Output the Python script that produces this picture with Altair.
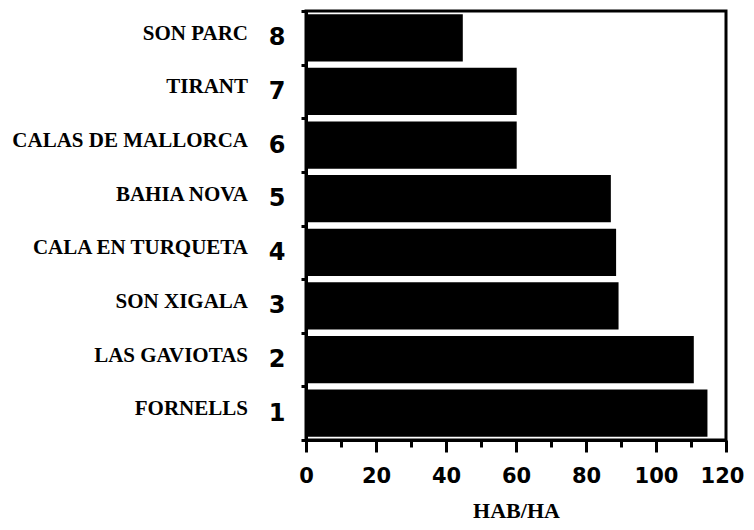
import altair as alt
import pandas as pd

names = ["FORNELLS", "LAS GAVIOTAS", "SON XIGALA", "CALA EN TURQUETA",
         "BAHIA NOVA", "CALAS DE MALLORCA", "TIRANT", "SON PARC"]
nums = [1, 2, 3, 4, 5, 6, 7, 8]
values = [114.7, 110.8, 89.3, 88.6, 87.1, 60.2, 60.2, 44.8]
x_ticks = [0, 10, 20, 30, 40, 50, 60, 70, 80, 90, 100, 110, 120]
y_ticks = [0.5, 1.5, 2.5, 3.5, 4.5, 5.5, 6.5, 7.5, 8.5]

df = pd.DataFrame({"name": names, "num": nums, "value": values})

half = 0.44

x_enc = alt.X(
    "value:Q",
    scale=alt.Scale(domain=[0, 120], nice=False, zero=True),
    axis=alt.Axis(
        title="HAB/HA",
        values=x_ticks,
        labelExpr="datum.value % 20 === 0 ? datum.label : ''",
        grid=False,
        tickSize={"condition": {"test": "datum.value % 20 === 0", "value": 12}, "value": 7},
        tickWidth=3,
        tickColor="black",
        domainColor="black",
        domainWidth=3,
        labelFont="DejaVu Sans",
        labelFontWeight="bold",
        labelFontSize=21,
        labelColor="black",
        labelPadding=13,
        labelOffset={"condition": {"test": "datum.value === 120", "value": -4}, "value": 0},
        labelFlush=False,
        labelOverlap=False,
        titleFont="Liberation Serif",
        titleFontWeight="bold",
        titleFontSize=22,
        titleColor="black",
        titlePadding=14,
    ),
)

y_scale = alt.Scale(domain=[0.5, 8.5], nice=False, zero=False)

bars = alt.Chart(df).transform_calculate(
    lo=f"datum.num - {half}", hi=f"datum.num + {half}"
).mark_bar(color="black").encode(
    x=x_enc,
    x2=alt.datum(0),
    y=alt.Y(
        "lo:Q",
        scale=y_scale,
        axis=alt.Axis(
            title=None,
            values=y_ticks,
            labelExpr="datum.value < 8 ? format(datum.value + 0.5, 'd') : ''",
            labelOffset=-26.8,
            grid=False,
            tickSize=5,
            tickWidth=3,
            tickColor="black",
            domainColor="black",
            domainWidth=3,
            labelFont="DejaVu Sans",
            labelFontWeight="bold",
            labelFontSize=24,
            labelColor="black",
            labelPadding=16,
            labelFlush=False,
            labelOverlap=False,
            labelBaseline="middle",
        ),
    ),
    y2="hi:Q",
)

labels = alt.Chart(df).mark_text(
    align="right", baseline="middle", font="Liberation Serif",
    fontWeight="bold", fontSize=21, color="black", dy=-4
).encode(
    x=alt.value(-58),
    y=alt.Y("num:Q", scale=y_scale),
    text="name:N",
)

chart = alt.layer(bars, labels).properties(
    width=420,
    height=429,
    autosize=alt.AutoSizeParams(type="none"),
    padding={"left": 298, "top": 3, "right": 20, "bottom": 82},
).configure_view(stroke="black", strokeWidth=3)

chart.save("out.html", embed_options={"renderer": "svg", "actions": False})
